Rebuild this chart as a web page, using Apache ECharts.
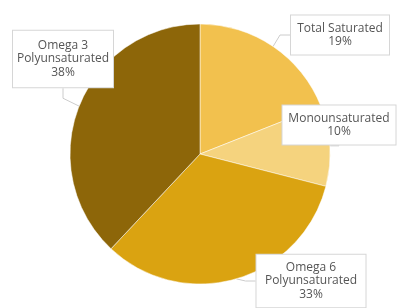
<!DOCTYPE html>
<html><head><meta charset="utf-8">
<script src="https://cdn.jsdelivr.net/npm/echarts@6/dist/echarts.min.js"></script>
<style>html,body{margin:0;padding:0;background:#fff}#c{width:400px;height:308px}</style>
</head><body><div id="c"></div>
<script>
const categories = ["Total Saturated", "Monounsaturated", "Omega 6\nPolyunsaturated", "Omega 3\nPolyunsaturated"];
const values = [19, 10, 33, 38];

// layout / style (not data)
const colors = ["#F2C14E", "#F5D37E", "#DAA311", "#8D6609"];
const labelPos = [[340, 35], [339, 125], [311, 281], [63, 59]];
const labelW = [86, 101, 97, 90];
const labelPad = [[6, 6], [6, 6], [6, 6], [8, 5]];

const chart = echarts.init(document.getElementById('c'));
chart.setOption({
  animation: false,
  series: [{
    type: 'pie',
    center: [200, 154],
    radius: 130,
    startAngle: 90,
    clockwise: true,
    data: categories.map((n, i) => ({
      name: n, value: values[i],
      itemStyle: { color: colors[i] },
      label: { width: labelW[i], padding: labelPad[i] }
    })),
    itemStyle: { borderColor: '#fff', borderWidth: 0.5 },
    label: {
      show: true,
      position: 'outside',
      formatter: p => p.name + '\n' + p.value + '%',
      color: '#555',
      fontFamily: 'Open Sans',
      fontSize: 12,
      lineHeight: 13.5,
      align: 'center',
      overflow: 'none',
      backgroundColor: '#fff',
      borderColor: '#d6d6d6',
      borderWidth: 1
    },
    labelLine: { show: true, length: 10, length2: 10, lineStyle: { color: '#ccc', width: 1 } },
    labelLayout: function (params) {
      const p = labelPos[params.dataIndex];
      return { x: p[0], y: p[1], align: 'center', verticalAlign: 'middle' };
    }
  }]
});
</script></body></html>
